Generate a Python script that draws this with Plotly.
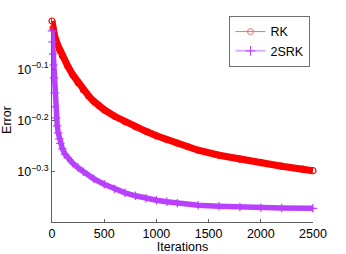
import plotly.graph_objects as go

# Data (error vs. iteration)
rk_iter = [0, 10, 25, 50, 75, 100, 150, 200, 250, 300, 350, 400, 450, 500, 600,
           700, 800, 900, 1000, 1100, 1200, 1300, 1400, 1600, 1800, 2000, 2200, 2400, 2500]
rk_err = [0.9866, 0.9561, 0.9224, 0.8900, 0.8643, 0.8433, 0.8061, 0.7742, 0.7472, 0.7241,
          0.7049, 0.6878, 0.6740, 0.6620, 0.6430, 0.6273, 0.6134, 0.6011, 0.5891, 0.5787,
          0.5697, 0.5608, 0.5521, 0.5398, 0.5303, 0.5220, 0.5139, 0.5070, 0.5036]

srk_iter = [0, 5, 10, 15, 20, 25, 30, 40, 50, 60, 70, 80, 100, 125, 150, 200, 250, 300,
            400, 500, 600, 700, 800, 900, 1000, 1100, 1200, 1400, 1600, 1800, 2000, 2200, 2500]
srk_err = [0.9434, 0.8980, 0.8508, 0.8097, 0.7639, 0.7145, 0.6708, 0.6385, 0.6160, 0.5970,
           0.5811, 0.5695, 0.5556, 0.5421, 0.5337, 0.5207, 0.5103, 0.5012, 0.4856, 0.4737,
           0.4642, 0.4560, 0.4499, 0.4449, 0.4409, 0.4380, 0.4350, 0.4311, 0.4292, 0.4277,
           0.4267, 0.4259, 0.4253]

series_names = ["RK", "2SRK"]
x_ticks = [0, 500, 1000, 1500, 2000, 2500]
y_tick_exps = [-0.3, -0.2, -0.1]

RED = "#ff0000"
PURPLE = "#b940ff"
FONT = "Liberation Sans, Arial, sans-serif"

fig = go.Figure()

fig.add_trace(go.Scatter(
    x=rk_iter, y=rk_err, mode="lines+markers", showlegend=False,
    line=dict(color=RED, width=7),
    marker=dict(symbol="circle-open", size=6, color=RED, line=dict(width=1.2)),
    cliponaxis=False, hoverinfo="skip",
))
fig.add_trace(go.Scatter(
    x=srk_iter, y=srk_err, mode="lines+markers", showlegend=False,
    line=dict(color=PURPLE, width=5.5),
    marker=dict(symbol="cross-thin-open", size=6, color=PURPLE, line=dict(width=1.2, color=PURPLE)),
    cliponaxis=False, hoverinfo="skip",
))

# legend entries (thin line with marker, as in the reference)
fig.add_trace(go.Scatter(
    x=[None], y=[None], mode="lines+markers", name=series_names[0],
    line=dict(color="#ff6666", width=1),
    marker=dict(symbol="circle-open", size=6, color="#ff6666", line=dict(width=1)),
))
fig.add_trace(go.Scatter(
    x=[None], y=[None], mode="lines+markers", name=series_names[1],
    line=dict(color="#dcb0ff", width=2),
    marker=dict(symbol="cross-thin-open", size=7, color=PURPLE, line=dict(width=1, color=PURPLE)),
))

fig.update_layout(
    width=346, height=254,
    margin=dict(l=52, r=33, t=18, b=32),
    paper_bgcolor="white", plot_bgcolor="white",
    font=dict(family=FONT, size=12, color="black"),
    legend=dict(
        x=0.68, y=1.01, xanchor="left", yanchor="top",
        bordercolor="#707070", borderwidth=1, bgcolor="white",
        font=dict(size=12.5), itemwidth=30, tracegroupgap=0,
    ),
)

fig.update_xaxes(
    range=[0, 2500], tickvals=x_ticks, ticks="inside", ticklen=3,
    tickcolor="#606060", showline=True, linecolor="#606060", linewidth=1,
    showgrid=False, zeroline=False, mirror=False, automargin=False,
    title=dict(text="Iterations", standoff=2, font=dict(size=12.5)),
    tickfont=dict(size=12.5),
)
fig.update_yaxes(
    type="log", range=[-0.398, 0],
    tickvals=[10 ** e for e in y_tick_exps],
    ticktext=["10<sup>\u2212%.1f</sup>" % abs(e) for e in y_tick_exps],
    ticks="inside", ticklen=3, tickcolor="#606060",
    showline=True, linecolor="#606060", linewidth=1,
    showgrid=False, zeroline=False, mirror=False, automargin=False,
    title=dict(text="Error", standoff=4, font=dict(size=12.5)),
    tickfont=dict(size=12.5),
)

fig.write_html(
    "out.html",
    config={"displayModeBar": False},
    post_script="document.body.style.margin='0px';document.body.style.overflow='hidden';",
)
